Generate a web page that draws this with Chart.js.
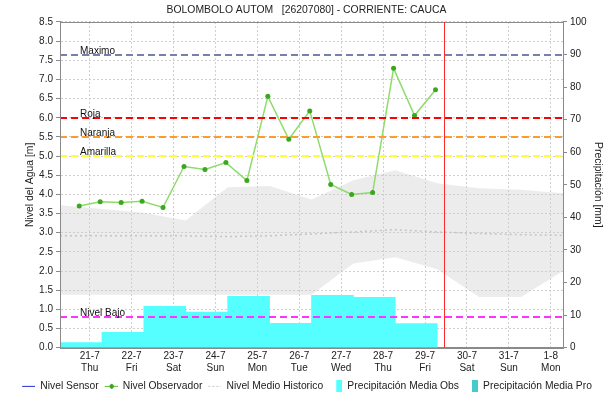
<!DOCTYPE html>
<html lang="es">
<head>
<meta charset="UTF-8">
<title>BOLOMBOLO AUTOM - CAUCA</title>
<script src="https://cdn.jsdelivr.net/npm/chart.js"></script>
<style>
    body { margin: 0; background: #fff; }
</style>
</head>
<body>
<canvas id="nivelChart" width="613" height="401"></canvas>
<script>
    const stationTitle = 'BOLOMBOLO AUTOM   [26207080] - CORRIENTE: CAUCA';
    const axisStart = '20-7 07:00';
    const axisEnd = '1-8 07:00';
    const nowTime = '29-7 11:00';

    // eje x: un tick por día (medianoche)
    const dayTicks = ['21-7', '22-7', '23-7', '24-7', '25-7', '26-7', '27-7', '28-7', '29-7', '30-7', '31-7', '1-8'];
    const weekDays = ['Thu', 'Fri', 'Sat', 'Sun', 'Mon', 'Tue', 'Wed', 'Thu', 'Fri', 'Sat', 'Sun', 'Mon'];

    // lecturas del observador [m]
    const obsTimes = ['20-7 18:00', '21-7 06:00', '21-7 18:00', '22-7 06:00', '22-7 18:00', '23-7 06:00',
        '23-7 18:00', '24-7 06:00', '24-7 18:00', '25-7 06:00', '25-7 18:00', '26-7 06:00',
        '26-7 18:00', '27-7 06:00', '27-7 18:00', '28-7 06:00', '28-7 18:00', '29-7 06:00'];
    const obsLevels = [3.70, 3.81, 3.79, 3.82, 3.66, 4.73, 4.65, 4.83, 4.36, 6.56, 5.44, 6.18, 4.26, 4.00, 4.05, 7.29, 6.06, 6.73];
    const sensorLevels = [];

    // precipitación diaria [mm], de 07:00 a 07:00 (centro de cada día)
    const rainTimes = ['20-7 19:00', '21-7 19:00', '22-7 19:00', '23-7 19:00', '24-7 19:00', '25-7 19:00', '26-7 19:00', '27-7 19:00', '28-7 19:00'];
    const rainObs = [1.6, 4.7, 12.7, 10.9, 15.8, 7.5, 16.1, 15.5, 7.4];
    const rainPro = [];

    // banda histórica [m]
    const histTimes = ['20-7 07:00', '21-7 07:00', '22-7 07:00', '23-7 07:00', '24-7 07:00', '25-7 07:00', '26-7 07:00',
        '27-7 07:00', '28-7 07:00', '29-7 07:00', '30-7 07:00', '31-7 07:00', '1-8 07:00'];
    const histUpper = [3.72, 3.62, 3.52, 3.32, 4.19, 4.22, 3.87, 4.37, 4.63, 4.29, 4.16, 4.12, 4.03];
    const histLower = [1.38, 1.38, 1.38, 1.38, 1.38, 1.38, 1.38, 2.2, 2.36, 2.05, 1.32, 1.32, 2.0];
    const histMean = [2.92, 2.92, 2.92, 2.92, 2.90, 2.92, 2.97, 3.02, 3.08, 3.02, 2.98, 2.95, 2.93];

    // umbrales [m]
    const levelNames = ['Maximo', 'Roja', 'Naranja', 'Amarilla', 'Nivel Bajo'];
    const levelValues = [7.65, 6.0, 5.5, 5.0, 0.8];
    const levelColors = ['#7382ad', '#ff0000', '#ff9a2e', '#ffff33', '#ff33ff'];

    const FONT = '"Liberation Sans", Arial, sans-serif';

    function stamp(s) {
        const [d, t] = s.split(' ');
        const [day, month] = d.split('-').map(Number);
        const [h, m] = (t || '00:00').split(':').map(Number);
        return Date.UTC(2022, month - 1, day, h, m);
    }
    const t0 = stamp(axisStart);
    function toHours(s) { return (stamp(s) - t0) / 3600000; }

    function points(times, values) {
        return values.map((v, i) => ({ x: toHours(times[i]), y: v }));
    }

    function icon(draw) {
        const c = document.createElement('canvas');
        c.width = 14; c.height = 12;
        draw(c.getContext('2d'));
        return c;
    }
    const icons = [
        icon(g => { g.strokeStyle = '#1f2fd0'; g.lineWidth = 1; g.beginPath(); g.moveTo(1, 6.5); g.lineTo(14, 6.5); g.stroke(); }),
        icon(g => { g.strokeStyle = '#5cbf3a'; g.lineWidth = 1; g.beginPath(); g.moveTo(1, 6.5); g.lineTo(14, 6.5); g.stroke();
                    g.fillStyle = '#3aa81c'; g.fillRect(6, 5, 4, 3); g.fillRect(7, 4, 2, 5); }),
        icon(g => { g.strokeStyle = '#c4c4c4'; g.lineWidth = 1; g.setLineDash([2, 2]); g.beginPath(); g.moveTo(1, 6.5); g.lineTo(14, 6.5); g.stroke(); }),
        icon(g => { g.fillStyle = '#55ffff'; g.fillRect(8, 0, 7, 12); }),
        icon(g => { g.fillStyle = '#44cccc'; g.fillRect(8, 0, 7, 12); })
    ];

    // umbrales, hora actual y marco
    const overlay = {
        id: 'overlay',
        afterDatasetsDraw(chart) {
            const { ctx, chartArea: a, scales } = chart;
            ctx.save();
            ctx.font = '10px ' + FONT;
            ctx.textBaseline = 'alphabetic';
            levelValues.forEach((v, i) => {
                const y = Math.round(scales.y.getPixelForValue(v));
                ctx.strokeStyle = levelColors[i];
                ctx.lineWidth = 2;
                ctx.setLineDash([7, 4]);
                ctx.beginPath();
                ctx.moveTo(a.left, y);
                ctx.lineTo(a.right, y);
                ctx.stroke();
                ctx.setLineDash([]);
                ctx.fillStyle = '#111';
                ctx.fillText(levelNames[i], a.left + 20, y - 1);
            });
            ctx.strokeStyle = '#8a8a8a';
            ctx.lineWidth = 1;
            ctx.strokeRect(Math.round(a.left) + 0.5, Math.round(a.top) + 0.5, Math.round(a.right - a.left), Math.round(a.bottom - a.top));
            const x = Math.round(scales.x.getPixelForValue(toHours(nowTime))) + 0.5;
            ctx.strokeStyle = '#ff2a2a';
            ctx.beginPath();
            ctx.moveTo(x, a.top);
            ctx.lineTo(x, a.bottom);
            ctx.stroke();
            ctx.restore();
        }
    };

    new Chart(document.getElementById('nivelChart'), {
        data: {
            datasets: [
                { type: 'line', label: 'Nivel Sensor', data: points([], sensorLevels), borderColor: '#1f2fd0', borderWidth: 1, pointRadius: 0, order: 2 },
                { type: 'line', label: 'Nivel Observador', data: points(obsTimes, obsLevels), borderColor: '#8fdc6c', borderWidth: 1.5,
                  pointRadius: 2.5, pointBackgroundColor: '#3aa81c', pointBorderWidth: 0, order: 1 },
                { type: 'line', label: 'Nivel Medio Historico', data: points(histTimes, histMean), borderColor: '#c4c4c4', borderWidth: 1.5,
                  borderDash: [2, 3], pointRadius: 0, order: 8 },
                { type: 'line', label: 'maximo historico', data: points(histTimes, histUpper), borderWidth: 0, pointRadius: 0,
                  fill: '+1', backgroundColor: 'rgba(205,205,205,0.38)', order: 10 },
                { type: 'line', label: 'minimo historico', data: points(histTimes, histLower), borderWidth: 0, pointRadius: 0, fill: false, order: 10 },
                { type: 'bar', label: 'Precipitación Media Obs', data: points(rainTimes, rainObs), yAxisID: 'y1', backgroundColor: '#55ffff',
                  grouped: false, barPercentage: 1, categoryPercentage: 1, order: 5 },
                { type: 'bar', label: 'Precipitación Media Pro', data: points(rainTimes, rainPro), yAxisID: 'y1', backgroundColor: '#44cccc',
                  grouped: false, barPercentage: 1, categoryPercentage: 1, order: 6 }
            ]
        },
        options: {
            responsive: false,
            animation: false,
            devicePixelRatio: 1,
            layout: { padding: 0 },
            plugins: {
                title: { display: true, text: stationTitle, color: '#222', font: { family: FONT, size: 10.4, weight: 'normal' }, padding: { top: 4, bottom: 5.5 } },
                tooltip: { enabled: false },
                legend: {
                    position: 'bottom',
                    labels: {
                        usePointStyle: true, pointStyleWidth: 14, boxHeight: 10, padding: 5, color: '#222',
                        font: { family: FONT, size: 10.3 },
                        generateLabels: chart => [0, 1, 2, 5, 6].map((di, k) => ({
                            text: chart.data.datasets[di].label, pointStyle: icons[k], datasetIndex: di,
                            fontColor: '#222', lineWidth: 0, strokeStyle: 'transparent', fillStyle: 'transparent'
                        }))
                    }
                }
            },
            scales: {
                x: {
                    type: 'linear',
                    offset: false,
                    min: 0,
                    max: toHours(axisEnd),
                    afterBuildTicks: s => { s.ticks = dayTicks.map(d => ({ value: toHours(d) })); },
                    afterFit: s => { s.height = 28; },
                    ticks: { autoSkip: false, maxRotation: 0, padding: 3, color: '#222', font: { family: FONT, size: 10 },
                             callback: (v, i) => [dayTicks[i], weekDays[i]] },
                    grid: { color: '#cfcfcf', drawTicks: false, offset: false },
                    border: { color: '#8a8a8a', dash: [2, 2] }
                },
                y: {
                    position: 'left',
                    min: 0, max: 8.5,
                    afterFit: s => { s.width = 60; },
                    ticks: { stepSize: 0.5, autoSkip: false, color: '#222', padding: 3, font: { family: FONT, size: 10 },
                             callback: v => v.toFixed(1) },
                    grid: { color: '#cfcfcf', tickColor: '#8a8a8a', tickLength: 4 },
                    border: { color: '#8a8a8a', dash: [2, 2] },
                    title: { display: true, text: 'Nivel del Agua [m]', color: '#222', font: { family: FONT, size: 10.4 }, padding: { top: 24 } }
                },
                y1: {
                    position: 'right',
                    min: 0, max: 100,
                    afterFit: s => { s.width = 50; },
                    ticks: { stepSize: 10, autoSkip: false, color: '#222', padding: 3, font: { family: FONT, size: 10 } },
                    grid: { drawOnChartArea: false, tickColor: '#8a8a8a', tickLength: 4 },
                    border: { color: '#8a8a8a' },
                    title: { display: true, text: 'Precipitación [mm]', color: '#222', font: { family: FONT, size: 10.4 }, padding: { top: 9 } }
                }
            }
        },
        plugins: [overlay]
    });
</script>
</body>
</html>
